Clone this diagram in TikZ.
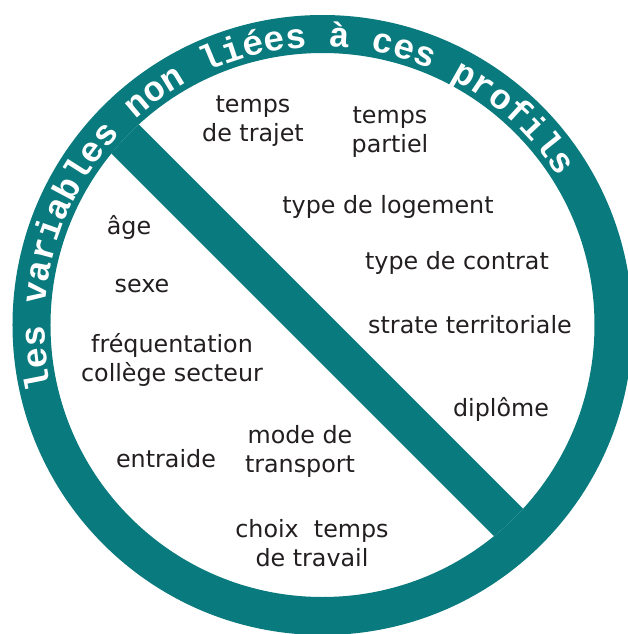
\documentclass[tikz,border=0pt]{standalone}
\usepackage{fontspec}
\setmainfont{DejaVu Sans}
\newfontfamily\ringfont{Liberation Mono}
\usepackage{xcolor}
\usetikzlibrary{decorations.text}
\definecolor{ringteal}{HTML}{097A7D}
\definecolor{inkdark}{HTML}{231F20}

\begin{document}
\begin{tikzpicture}[
  x=0.5pt,y=0.5pt,
  v/.style={font=\fontsize{11.9}{14.5}\selectfont,text=inkdark,align=center,inner sep=0pt},
  ring/.style={fill=ringteal,even odd rule}
]
\fill[white] (-322.5,-309) rectangle (305.5,325);
\useasboundingbox (-322.5,-309) rectangle (305.5,325);
% the bar, cut off at the inside of the ring
\begin{scope}
  \clip (0,0) circle[radius=272];
  \fill[ringteal,rotate=-45] (-300,-28.1) rectangle (300,11.9);
\end{scope}
\fill[ring] (0,0) circle[radius=310] (0,0) circle[radius=272];
\path[decorate,decoration={text along path,text align=center,
  text={|\ringfont\bfseries\fontsize{17.6}{20}\selectfont\color{white}|les variables non liées à ces profils}}]
  (202.7:278) arc[start angle=202.7,end angle=22.7,radius=278];
% upper half
\node[v] (trajet) at (-69.5,204) {temps\\de trajet};
\node[v] (partiel) at (67.5,192.5) {temps\\partiel};
\node[v] (logement) at (65.5,118) {type de logement};
\node[v] (contrat) at (134.5,62) {type de contrat};
\node[v] (strate) at (147.5,0) {strate territoriale};
\node[v] (diplome) at (178.5,-84) {diplôme};
% lower half
\node[v] (age) at (-193.5,98) {âge};
\node[v] (sexe) at (-180.5,39) {sexe};
\node[v] (college) at (-150.5,-35) {fréquentation\\collège secteur};
\node[v] (entraide) at (-156.5,-134) {entraide};
\node[v] (transport) at (-22.5,-126.5) {mode de\\transport};
\node[v] (travail) at (-10.5,-218.5) {choix\ \ temps\\de travail};
\end{tikzpicture}
\end{document}
